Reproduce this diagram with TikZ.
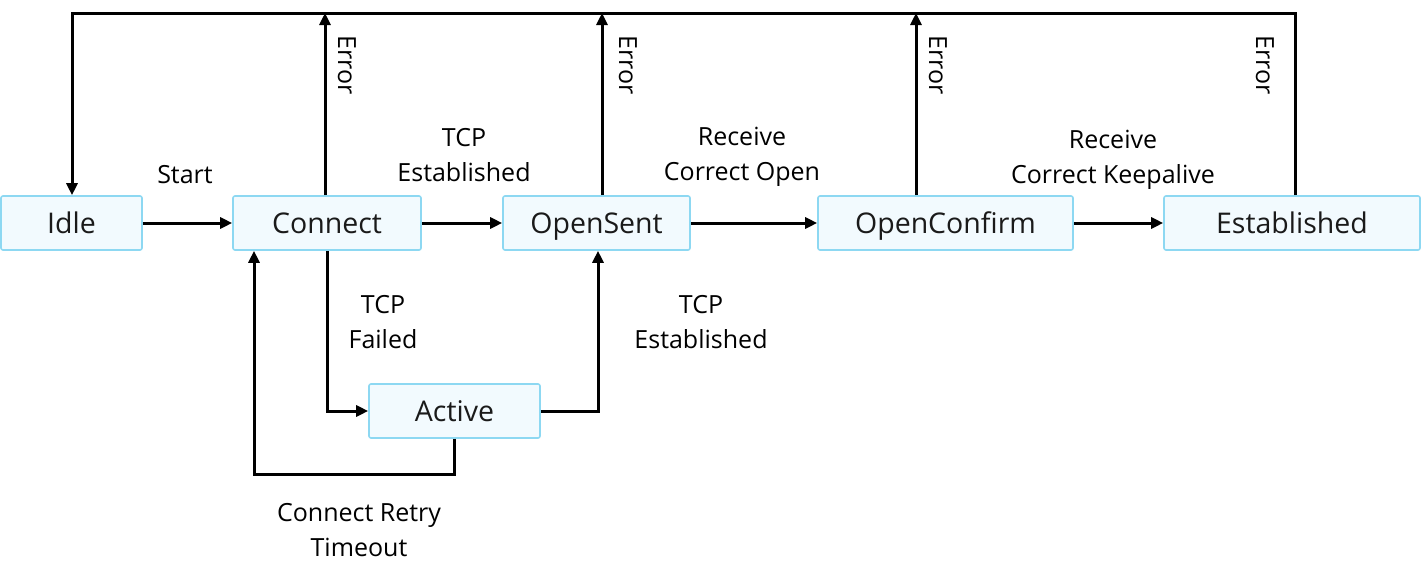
\documentclass[tikz,border=0pt]{standalone}
\usepackage{fontspec}
\setmainfont{Open Sans}
\usetikzlibrary{arrows.meta}
\definecolor{boxfill}{HTML}{F2FAFE}
\definecolor{boxline}{HTML}{8DD8F2}
\definecolor{txt}{HTML}{1A1A1A}
\begin{document}
\begin{tikzpicture}[x=1pt,y=-1pt,
  state/.style={draw=boxline,fill=boxfill,line width=1.6pt,rounded corners=2pt,
    minimum height=54pt,inner sep=0pt,text height=23pt,text depth=3pt,text=txt,
    font=\fontsize{28.5}{32}\selectfont},
  arr/.style={line width=3pt,-{Triangle[length=12pt,width=11pt]}},
  lbl/.style={align=center,font=\fontsize{25}{35}\selectfont,text=black,inner sep=0pt},
  err/.style={rotate=-90,font=\fontsize{25}{28}\selectfont,inner sep=0pt}]
\useasboundingbox (0,0) rectangle (1422,581);
\node[state,minimum width=141pt] (Idle) at (71.5,223) {Idle};
\node[state,minimum width=188pt] (Connect) at (327,223) {Connect};
\node[state,minimum width=187pt] (OpenSent) at (596.5,223) {OpenSent};
\node[state,minimum width=255pt] (OpenConfirm) at (945.5,223) {OpenConfirm};
\node[state,minimum width=256pt] (Established) at (1292,223) {Established};
\node[state,minimum width=171pt] (Active) at (454.5,411) {Active};
% top error bus
\coordinate (tl) at (72,13);
\coordinate (tr) at (1295,13);
\coordinate (e1) at (325,13);
\coordinate (e2) at (602,13);
\coordinate (e3) at (916,13);
\coordinate (rt) at (254,474);
\coordinate (as) at (598,411);
\draw[arr] (tr |- Established.north) -- (tr) -- (tl) -- (tl |- Idle.north);
\draw[arr] (e1 |- Connect.north) -- (e1);
\draw[arr] (e2 |- OpenSent.north) -- (e2);
\draw[arr] (e3 |- OpenConfirm.north) -- (e3);
% main row
\draw[arr] (Idle) -- (Connect);
\draw[arr] (Connect) -- (OpenSent);
\draw[arr] (OpenSent) -- (OpenConfirm);
\draw[arr] (OpenConfirm) -- (Established);
% lower paths
\draw[arr] (Connect.south) |- (Active.west);
\draw[arr] (Active.east) -- (as) -- (as |- OpenSent.south);
\draw[arr] (Active.south) |- (rt) -- (rt |- Connect.south);
% labels
\node[err] (er1) at (347,65) {Error};
\node[err] (er2) at (628,65) {Error};
\node[err] (er3) at (938,65) {Error};
\node[err] (er4) at (1265,65) {Error};
\node[lbl] (l1) at (185,175) {Start};
\node[lbl] (l2) at (464,155) {TCP\\Established};
\node[lbl] (l3) at (742,157) {Receive\\Correct Open};
\node[lbl] (l4) at (1113,160) {Receive\\Correct Keepalive};
\node[lbl] (l5) at (383,322) {TCP\\Failed};
\node[lbl] (l6) at (701,322) {TCP\\Established};
\node[lbl] (l7) at (359,530) {Connect Retry\\Timeout};
\end{tikzpicture}
\end{document}
